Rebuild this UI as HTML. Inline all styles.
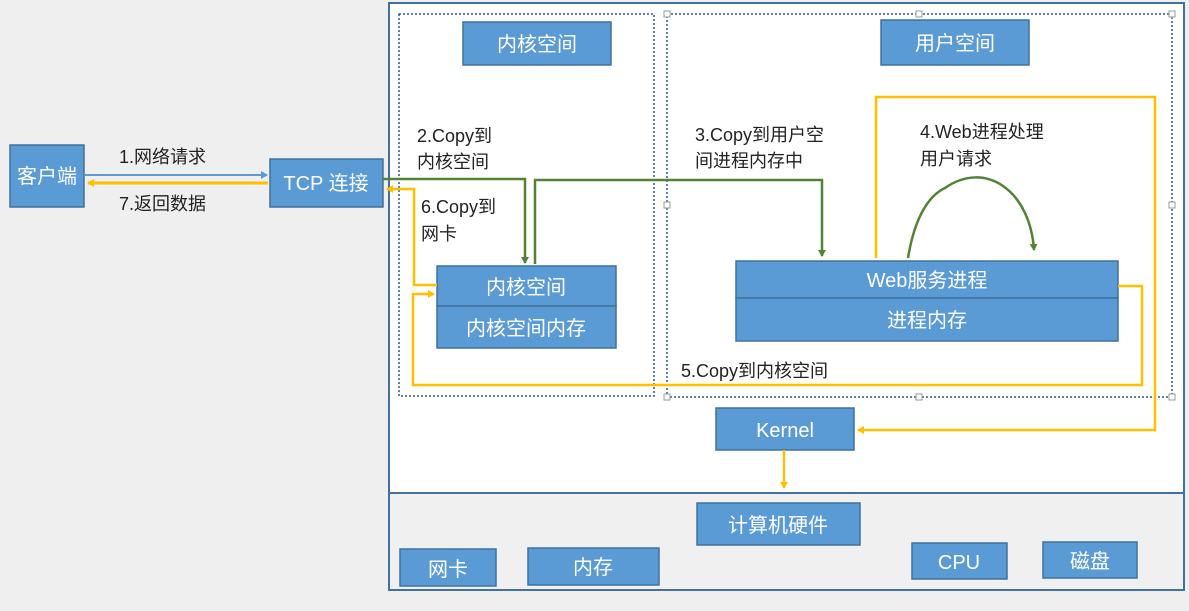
<!DOCTYPE html>
<html><head><meta charset="utf-8"><style>
html,body{margin:0;padding:0;background:#efefef;}
svg{display:block}
text{font-family:"Liberation Sans","Noto Sans CJK SC",sans-serif;}
</style></head><body>
<svg width="1189" height="611" viewBox="0 0 1189 611" xmlns="http://www.w3.org/2000/svg">
<defs>
<marker id="ay" markerWidth="8" markerHeight="8" refX="6" refY="4" orient="auto" markerUnits="userSpaceOnUse"><path d="M0,0 L7,4 L0,8 z" fill="#ffc000"/></marker>
<marker id="ag" markerWidth="8" markerHeight="8" refX="6" refY="4" orient="auto" markerUnits="userSpaceOnUse"><path d="M0,0 L7,4 L0,8 z" fill="#548235"/></marker>
<marker id="ab" markerWidth="8" markerHeight="8" refX="6" refY="4" orient="auto" markerUnits="userSpaceOnUse"><path d="M0,0 L7,4 L0,8 z" fill="#5b9bd5"/></marker>
</defs>
<rect x="0" y="0" width="1189" height="611" fill="#efefef"/>
<rect x="389" y="3" width="795" height="490" fill="#fff"/>
<rect x="389" y="493" width="795" height="97" fill="#f0f0f0"/>
<rect x="389" y="3" width="795" height="587" fill="none" stroke="#41719c" stroke-width="2"/>
<line x1="389" y1="493" x2="1184" y2="493" stroke="#41719c" stroke-width="2"/>
<!-- dotted boxes -->
<rect x="399" y="14" width="255" height="382" fill="none" stroke="#2f5597" stroke-width="1.5" stroke-dasharray="2,2"/>
<rect x="667" y="14" width="505" height="383" fill="none" stroke="#2f5597" stroke-width="1.5" stroke-dasharray="2,2"/>
<g fill="#fff" stroke="#999" stroke-width="1">
<rect x="664" y="11" width="6" height="6"/><rect x="916" y="11" width="6" height="6"/><rect x="1169" y="11" width="6" height="6"/>
<rect x="664" y="202" width="6" height="6"/><rect x="1169" y="202" width="6" height="6"/>
<rect x="664" y="394" width="6" height="6"/><rect x="916" y="394" width="6" height="6"/><rect x="1169" y="394" width="6" height="6"/>
</g>
<g fill="#5b9bd5" stroke="#41719c" stroke-width="1.5">
<rect x="10" y="145" width="74" height="62"/>
<rect x="270" y="159" width="113" height="48"/>
<rect x="463" y="22" width="148" height="43"/>
<rect x="881" y="20" width="148" height="45"/>
<rect x="437" y="266" width="179" height="40"/>
<rect x="437" y="306" width="179" height="42"/>
<rect x="736" y="261" width="382" height="37"/>
<rect x="736" y="298" width="382" height="43"/>
<rect x="716" y="408" width="138" height="42"/>
<rect x="697" y="503" width="163" height="42"/>
<rect x="400" y="549" width="96" height="37"/>
<rect x="528" y="548" width="131" height="37"/>
<rect x="912" y="543" width="95" height="36"/>
<rect x="1043" y="542" width="94" height="36"/>
</g>
<g fill="#fff" font-size="20" text-anchor="middle">
<text x="47" y="183">客户端</text>
<text x="326" y="190">TCP 连接</text>
<text x="537" y="51">内核空间</text>
<text x="955" y="50">用户空间</text>
<text x="526" y="294">内核空间</text>
<text x="526" y="335">内核空间内存</text>
<text x="927" y="287">Web服务进程</text>
<text x="927" y="327">进程内存</text>
<text x="785" y="437">Kernel</text>
<text x="778" y="532">计算机硬件</text>
<text x="448" y="576">网卡</text>
<text x="593" y="574">内存</text>
<text x="959" y="569">CPU</text>
<text x="1090" y="568">磁盘</text>
</g>
<g fill="#222" font-size="18">
<text x="119" y="163">1.网络请求</text>
<text x="119" y="210">7.返回数据</text>
<text x="417" y="142">2.Copy到</text>
<text x="417" y="168">内核空间</text>
<text x="421" y="213">6.Copy到</text>
<text x="421" y="240">网卡</text>
<text x="695" y="141">3.Copy到用户空</text>
<text x="695" y="167">间进程内存中</text>
<text x="920" y="138">4.Web进程处理</text>
<text x="920" y="165">用户请求</text>
<text x="681" y="377">5.Copy到内核空间</text>
</g>
<!-- connectors -->
<line x1="84" y1="175" x2="267" y2="175" stroke="#5b9bd5" stroke-width="2" marker-end="url(#ab)"/>
<line x1="268" y1="183" x2="88" y2="183" stroke="#ffc000" stroke-width="3" marker-end="url(#ay)"/>
<polyline points="383,179 525,179 525,263" fill="none" stroke="#548235" stroke-width="2.5" marker-end="url(#ag)"/>
<polyline points="535,264 535,180 822,180 822,256" fill="none" stroke="#548235" stroke-width="2.5" marker-end="url(#ag)"/>
<path d="M908,258 C915,215 930,195 945,188 C985,160 1030,190 1034,250" fill="none" stroke="#548235" stroke-width="2.5" marker-end="url(#ag)"/>
<polyline points="876,258 876,97 1155,97 1155,430 858,430" fill="none" stroke="#ffc000" stroke-width="2.5" marker-end="url(#ay)"/>
<polyline points="1118,286 1142,286 1142,385 413,385 413,294 434,294" fill="none" stroke="#ffc000" stroke-width="2.5" marker-end="url(#ay)"/>
<polyline points="437,285 414,285 414,189 387,189" fill="none" stroke="#ffc000" stroke-width="2.5" marker-end="url(#ay)"/>
<line x1="784" y1="450" x2="784" y2="488" stroke="#ffc000" stroke-width="2.5" marker-end="url(#ay)"/>
</svg>
</body></html>
